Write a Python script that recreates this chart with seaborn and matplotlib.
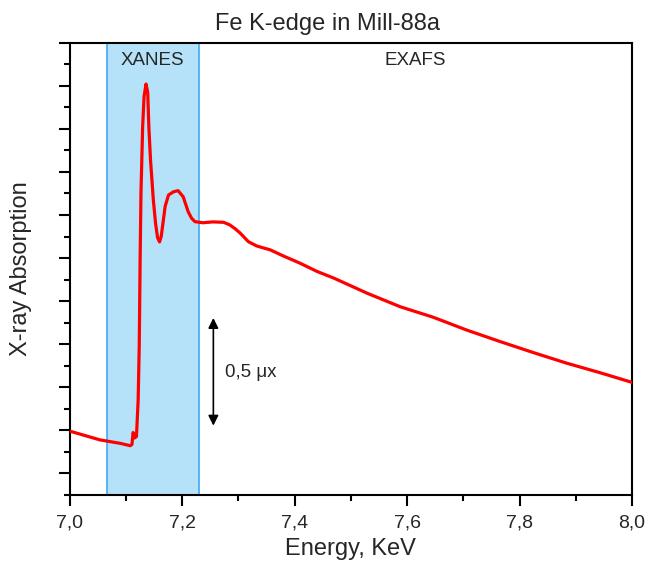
import numpy as np
import pandas as pd
import matplotlib
matplotlib.use("Agg")
import matplotlib.pyplot as plt
from matplotlib.ticker import MultipleLocator, FixedLocator, FixedFormatter
import seaborn as sns

# ---- data ----
energy = [7.000, 7.054, 7.090, 7.108, 7.111, 7.113, 7.116, 7.119, 7.122, 7.124,
          7.1255, 7.127, 7.130, 7.1325, 7.136, 7.139, 7.141, 7.144, 7.149,
          7.153, 7.1565, 7.160, 7.163, 7.166, 7.170, 7.176, 7.185, 7.193,
          7.202, 7.211, 7.217, 7.223, 7.237, 7.255, 7.274, 7.285, 7.295,
          7.303, 7.318, 7.333, 7.357, 7.380, 7.410, 7.440, 7.469, 7.529,
          7.588, 7.647, 7.706, 7.766, 7.825, 7.884, 7.943, 8.000]
absorption = [0.197, 0.156, 0.140, 0.129, 0.135, 0.190, 0.165, 0.172, 0.34, 0.60,
              0.99, 1.30, 1.61, 1.75, 1.808, 1.77, 1.61, 1.455, 1.27,
              1.16, 1.095, 1.075, 1.10, 1.16, 1.24, 1.293, 1.308, 1.313,
              1.285, 1.215, 1.185, 1.169, 1.164, 1.168, 1.166, 1.154, 1.135,
              1.117, 1.076, 1.056, 1.038, 1.010, 0.976, 0.938, 0.908, 0.837,
              0.774, 0.725, 0.666, 0.612, 0.561, 0.512, 0.468, 0.423]

xtick_values = [7.0, 7.2, 7.4, 7.6, 7.8, 8.0]
xtick_labels = ["7,0", "7,2", "7,4", "7,6", "7,8", "8,0"]
xanes_range = [7.066, 7.230]
scale_bar = [0.222, 0.722]

df = pd.DataFrame({"Energy": energy, "Absorption": absorption})

sns.set_style("ticks")
plt.rcParams["font.family"] = ["Liberation Sans", "DejaVu Sans"]

fig = plt.figure(figsize=(6.48, 5.66), dpi=100)
ax = fig.add_axes([0.1073, 0.1254, 0.8680, 0.7992])

ax.axvspan(xanes_range[0], xanes_range[1], facecolor="#b5e2f9",
           edgecolor="#3eaaf5", linewidth=1.2, zorder=0)

sns.lineplot(data=df, x="Energy", y="Absorption", ax=ax, color="#ff0000",
             linewidth=2.3, zorder=3)

ax.set_xlim(7.0, 8.0)
ax.set_ylim(-0.1, 2.0)
ax.xaxis.set_major_locator(FixedLocator(xtick_values))
ax.xaxis.set_major_formatter(FixedFormatter(xtick_labels))
ax.xaxis.set_minor_locator(MultipleLocator(0.1))
ax.yaxis.set_major_locator(MultipleLocator(0.2))
ax.yaxis.set_minor_locator(MultipleLocator(0.1))
ax.set_yticklabels([])
ax.tick_params(axis="both", which="major", direction="out", length=8,
               width=1.5, color="black", labelsize=14, pad=6)
ax.tick_params(axis="both", which="minor", direction="out", length=4,
               width=1.5, color="black")
for s in ax.spines.values():
    s.set_visible(True)
    s.set_linewidth(1.5)
    s.set_color("black")

ax.set_xlabel("Energy, KeV", fontsize=17, va="top")
ax.xaxis.set_label_coords(0.5, -0.095)
ax.set_ylabel("X-ray Absorption", fontsize=17)
ax.yaxis.set_label_coords(-0.066, 0.5)
ax.set_title("Fe K-edge in Mill-88a", fontsize=17, pad=9, x=0.458)

ax.text(sum(xanes_range) / 2, 1.915, "XANES", ha="center", va="center",
        fontsize=13.5)
ax.text(7.615, 1.915, "EXAFS", ha="center", va="center", fontsize=13.5)

ax.annotate("", xy=(7.2557, scale_bar[1]), xytext=(7.2557, scale_bar[0]),
            arrowprops=dict(arrowstyle="<|-|>", color="black", lw=1.2,
                            mutation_scale=15, shrinkA=0, shrinkB=0))
ax.text(7.276, 0.47, "0,5 μx", ha="left", va="center", fontsize=13.5)

fig.savefig("out.png", dpi=100)
